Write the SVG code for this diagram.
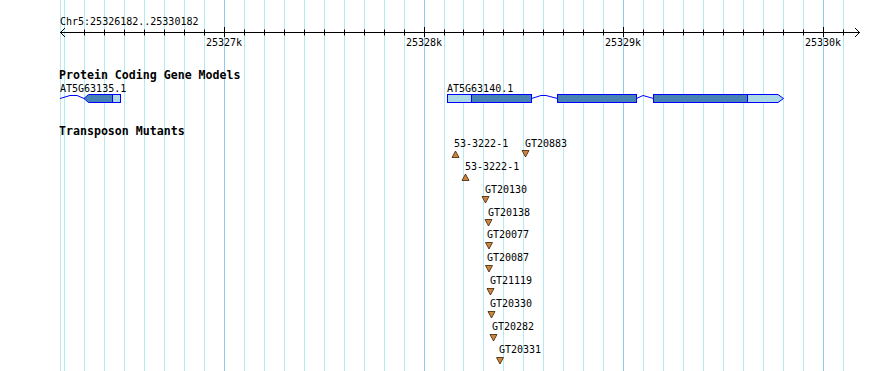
<svg xmlns="http://www.w3.org/2000/svg" width="890" height="371" viewBox="0 0 890 371">
<style>
.g{stroke:#b2ebf1;stroke-width:1}
.gm{stroke:#8ecbef;stroke-width:1}
.t{font-family:"DejaVu Sans Mono","Liberation Mono",monospace;font-size:10px;fill:#000}
.b{font-family:"DejaVu Sans Mono","Liberation Mono",monospace;font-size:11.6px;font-weight:bold;fill:#000}
.tk{stroke:#000;stroke-width:1}
.cds{fill:#4682b4;stroke:#0000ff;stroke-width:1}
.utr{fill:#add8e6;stroke:#0000ff;stroke-width:1}
.intr{fill:none;stroke:#0000ff;stroke-width:1}
.tri{fill:#cd853f;stroke:#3a2000;stroke-width:0.8}
</style>
<rect width="890" height="371" fill="#fff"/>
<g id="grid">
<line class="g" x1="60.5" y1="0" x2="60.5" y2="371"/>
<line class="g" x1="64.5" y1="0" x2="64.5" y2="371"/>
<line class="g" x1="84.5" y1="0" x2="84.5" y2="371"/>
<line class="g" x1="104.5" y1="0" x2="104.5" y2="371"/>
<line class="g" x1="124.5" y1="0" x2="124.5" y2="371"/>
<line class="g" x1="144.5" y1="0" x2="144.5" y2="371"/>
<line class="g" x1="164.5" y1="0" x2="164.5" y2="371"/>
<line class="g" x1="184.5" y1="0" x2="184.5" y2="371"/>
<line class="g" x1="204.5" y1="0" x2="204.5" y2="371"/>
<line class="gm" x1="224.5" y1="0" x2="224.5" y2="371"/>
<line class="g" x1="244.5" y1="0" x2="244.5" y2="371"/>
<line class="g" x1="264.5" y1="0" x2="264.5" y2="371"/>
<line class="g" x1="284.5" y1="0" x2="284.5" y2="371"/>
<line class="g" x1="304.5" y1="0" x2="304.5" y2="371"/>
<line class="g" x1="324.5" y1="0" x2="324.5" y2="371"/>
<line class="g" x1="344.5" y1="0" x2="344.5" y2="371"/>
<line class="g" x1="364.5" y1="0" x2="364.5" y2="371"/>
<line class="g" x1="384.5" y1="0" x2="384.5" y2="371"/>
<line class="g" x1="404.5" y1="0" x2="404.5" y2="371"/>
<line class="gm" x1="424.5" y1="0" x2="424.5" y2="371"/>
<line class="g" x1="444.5" y1="0" x2="444.5" y2="371"/>
<line class="g" x1="463.5" y1="0" x2="463.5" y2="371"/>
<line class="g" x1="483.5" y1="0" x2="483.5" y2="371"/>
<line class="g" x1="503.5" y1="0" x2="503.5" y2="371"/>
<line class="g" x1="523.5" y1="0" x2="523.5" y2="371"/>
<line class="g" x1="543.5" y1="0" x2="543.5" y2="371"/>
<line class="g" x1="563.5" y1="0" x2="563.5" y2="371"/>
<line class="g" x1="583.5" y1="0" x2="583.5" y2="371"/>
<line class="g" x1="603.5" y1="0" x2="603.5" y2="371"/>
<line class="gm" x1="623.5" y1="0" x2="623.5" y2="371"/>
<line class="g" x1="643.5" y1="0" x2="643.5" y2="371"/>
<line class="g" x1="663.5" y1="0" x2="663.5" y2="371"/>
<line class="g" x1="683.5" y1="0" x2="683.5" y2="371"/>
<line class="g" x1="703.5" y1="0" x2="703.5" y2="371"/>
<line class="g" x1="723.5" y1="0" x2="723.5" y2="371"/>
<line class="g" x1="743.5" y1="0" x2="743.5" y2="371"/>
<line class="g" x1="763.5" y1="0" x2="763.5" y2="371"/>
<line class="g" x1="783.5" y1="0" x2="783.5" y2="371"/>
<line class="g" x1="803.5" y1="0" x2="803.5" y2="371"/>
<line class="gm" x1="823.5" y1="0" x2="823.5" y2="371"/>
<line class="g" x1="843.5" y1="0" x2="843.5" y2="371"/>
</g>
<g id="ruler">
<text class="t" x="60" y="25">Chr5:25326182..25330182</text>
<line class="tk" x1="60" y1="32.5" x2="860" y2="32.5"/>
<polyline fill="none" stroke="#000" points="65,28 60.5,32.5 65,37"/>
<polyline fill="none" stroke="#000" points="855,28 859.5,32.5 855,37"/>
<path class="tk" d="M84.5,29.5V35.5M104.5,29.5V35.5M124.5,29.5V35.5M144.5,29.5V35.5M164.5,29.5V35.5M184.5,29.5V35.5M204.5,29.5V35.5M244.5,29.5V35.5M264.5,29.5V35.5M284.5,29.5V35.5M304.5,29.5V35.5M324.5,29.5V35.5M344.5,29.5V35.5M364.5,29.5V35.5M384.5,29.5V35.5M404.5,29.5V35.5M444.5,29.5V35.5M463.5,29.5V35.5M483.5,29.5V35.5M503.5,29.5V35.5M523.5,29.5V35.5M543.5,29.5V35.5M563.5,29.5V35.5M583.5,29.5V35.5M603.5,29.5V35.5M643.5,29.5V35.5M663.5,29.5V35.5M683.5,29.5V35.5M703.5,29.5V35.5M723.5,29.5V35.5M743.5,29.5V35.5M763.5,29.5V35.5M783.5,29.5V35.5M803.5,29.5V35.5M843.5,29.5V35.5"/>
<path class="tk" d="M224.5,27V37M424.5,27V37M623.5,27V37M823.5,27V37"/>
<text class="t" x="206" y="46">25327k</text>
<text class="t" x="406" y="46">25328k</text>
<text class="t" x="605" y="46">25329k</text>
<text class="t" x="805" y="46">25330k</text>
</g>
<g id="track-genes">
<text class="b" x="59" y="79">Protein Coding Gene Models</text>
</g>
<g id="gene-AT5G63135">
<text class="t" x="60" y="92">AT5G63135.1</text>
<polyline class="intr" points="60,98.5 70,95.5 77,95.5 84,98.5"/>
<polygon class="cds" points="84,98.5 88.5,94.5 112.5,94.5 112.5,102.5 88.5,102.5"/>
<rect class="utr" x="112.5" y="94.5" width="8" height="8"/>
</g>
<g id="gene-AT5G63140">
<text class="t" x="447" y="92">AT5G63140.1</text>
<polyline class="intr" points="531.5,98.5 541,95.5 546,95.5 557.5,98.5"/>
<polyline class="intr" points="636.5,98.5 643,95.5 653.5,98.5"/>
<rect class="utr" x="447.5" y="94.5" width="24" height="8"/>
<rect class="cds" x="471.5" y="94.5" width="60" height="8"/>
<rect class="cds" x="557.5" y="94.5" width="79" height="8"/>
<rect class="cds" x="653.5" y="94.5" width="94" height="8"/>
<polygon class="utr" points="747.5,94.5 778,94.5 783.5,98.5 778,102.5 747.5,102.5"/>
</g>
<g id="track-transposons">
<text class="b" x="59" y="135">Transposon Mutants</text>
</g>
<g id="tm1"><text class="t" x="454" y="147">53-3222-1</text><polygon class="tri" points="455.5,151 459,157.5 452,157.5"/></g>
<g id="tm2"><text class="t" x="525" y="147">GT20883</text><polygon class="tri" points="522,150.5 529,150.5 525.5,157"/></g>
<g id="tm3"><text class="t" x="465" y="170">53-3222-1</text><polygon class="tri" points="465.5,174 469,180.5 462,180.5"/></g>
<g id="tm4"><text class="t" x="485" y="193">GT20130</text><polygon class="tri" points="482,196.5 489,196.5 485.5,203"/></g>
<g id="tm5"><text class="t" x="488" y="216">GT20138</text><polygon class="tri" points="485,219.5 492,219.5 488.5,226"/></g>
<g id="tm6"><text class="t" x="487" y="238">GT20077</text><polygon class="tri" points="485.5,242.5 492.5,242.5 489,249"/></g>
<g id="tm7"><text class="t" x="487" y="261">GT20087</text><polygon class="tri" points="485.5,265.5 492.5,265.5 489,272"/></g>
<g id="tm8"><text class="t" x="490" y="284">GT21119</text><polygon class="tri" points="487,288.5 494,288.5 490.5,295"/></g>
<g id="tm9"><text class="t" x="490" y="307">GT20330</text><polygon class="tri" points="488,311.5 495,311.5 491.5,318"/></g>
<g id="tm10"><text class="t" x="492" y="330">GT20282</text><polygon class="tri" points="490,334.5 497,334.5 493.5,341"/></g>
<g id="tm11"><text class="t" x="499" y="353">GT20331</text><polygon class="tri" points="496.5,357.5 503.5,357.5 500,364"/></g>
</svg>
